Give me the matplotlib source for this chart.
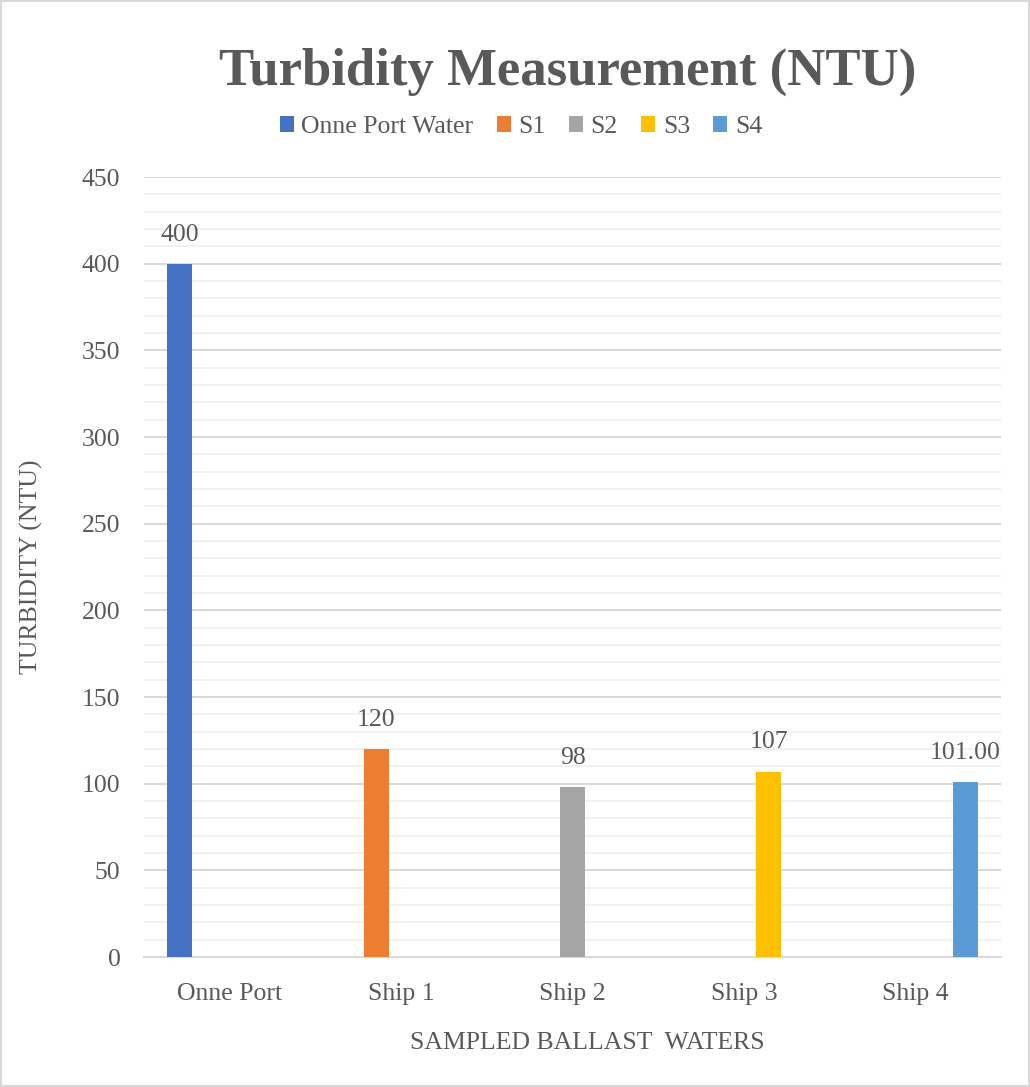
import matplotlib
matplotlib.use("Agg")
import matplotlib.pyplot as plt
from matplotlib.patches import Patch, Rectangle
from matplotlib.ticker import MultipleLocator
import numpy as np

categories = ["Onne Port", "Ship 1", "Ship 2", "Ship 3", "Ship 4"]
series_names = ["Onne Port Water", "S1", "S2", "S3", "S4"]
turbidity = [400, 120, 98, 107, 101]
value_labels = ["400", "120", "98", "107", "101.00"]
colors = ["#4472C4", "#ED7D31", "#A5A5A5", "#FFC000", "#5B9BD5"]
yticks = [0, 50, 100, 150, 200, 250, 300, 350, 400, 450]

TXT = "#595959"
FONT = "Liberation Serif"
plt.rcParams["font.family"] = [FONT, "DejaVu Serif"]

fig = plt.figure(figsize=(10.30, 10.87), dpi=100)
ax = fig.add_axes([144/1030, 1-957/1087, 857/1030, 780/1087])

x = np.arange(len(categories))
w = 0.146
for i, (name, val, lab, col) in enumerate(zip(series_names, turbidity, value_labels, colors)):
    xpos = x[i] + (i - 2) * w
    ax.bar(xpos, val, width=w, color=col, label=name, zorder=3, linewidth=0)
    ax.annotate(lab, (xpos, val), xytext=(0, 13), textcoords="offset points",
                ha="center", va="bottom", fontsize=18.5, color=TXT)

ax.set_xlim(-0.5, len(categories) - 0.5)
ax.set_ylim(0, 450)
ax.set_yticks(yticks)
ax.yaxis.set_minor_locator(MultipleLocator(10))
ax.set_xticks(x)
ax.set_xticklabels(categories)
ax.tick_params(axis="both", which="both", length=0, labelsize=18.5, labelcolor=TXT)
ax.tick_params(axis="y", pad=17)
ax.tick_params(axis="x", pad=19)
ax.grid(axis="y", which="major", color="#D9D9D9", linewidth=1.4, zorder=1)
ax.grid(axis="y", which="minor", color="#F2F2F2", linewidth=1.4, zorder=0)
for s in ["top", "right", "left"]:
    ax.spines[s].set_visible(False)
ax.spines["bottom"].set_color("#D9D9D9")
ax.spines["bottom"].set_linewidth(1.4)

fig.text(568/1030, 1-85/1087, "Turbidity Measurement (NTU)", ha="center", va="baseline",
         fontsize=38, fontweight="bold", color=TXT)

handles = [Patch(facecolor=c, edgecolor="none", label=n) for n, c in zip(series_names, colors)]
fig.legend(handles=handles, loc="center", bbox_to_anchor=(521/1030, 1-127/1087), ncol=5,
           frameon=False, fontsize=18.5, handlelength=0.55, handleheight=0.55,
           handletextpad=0.3, columnspacing=0.9, labelcolor=TXT)

fig.text(31/1030, 1-567/1087, "TURBIDITY (NTU)", rotation=90, ha="center", va="center",
         fontsize=18.5, color=TXT)
fig.text(587/1030, 1-1043/1087, "SAMPLED BALLAST  WATERS", ha="center", va="center",
         fontsize=18.5, color=TXT)

fig.patches.append(Rectangle((0.001, 0.001), 0.998, 0.998, transform=fig.transFigure,
                             fill=False, edgecolor="#D9D9D9", linewidth=1.5))

fig.savefig("out.png", dpi=100)
